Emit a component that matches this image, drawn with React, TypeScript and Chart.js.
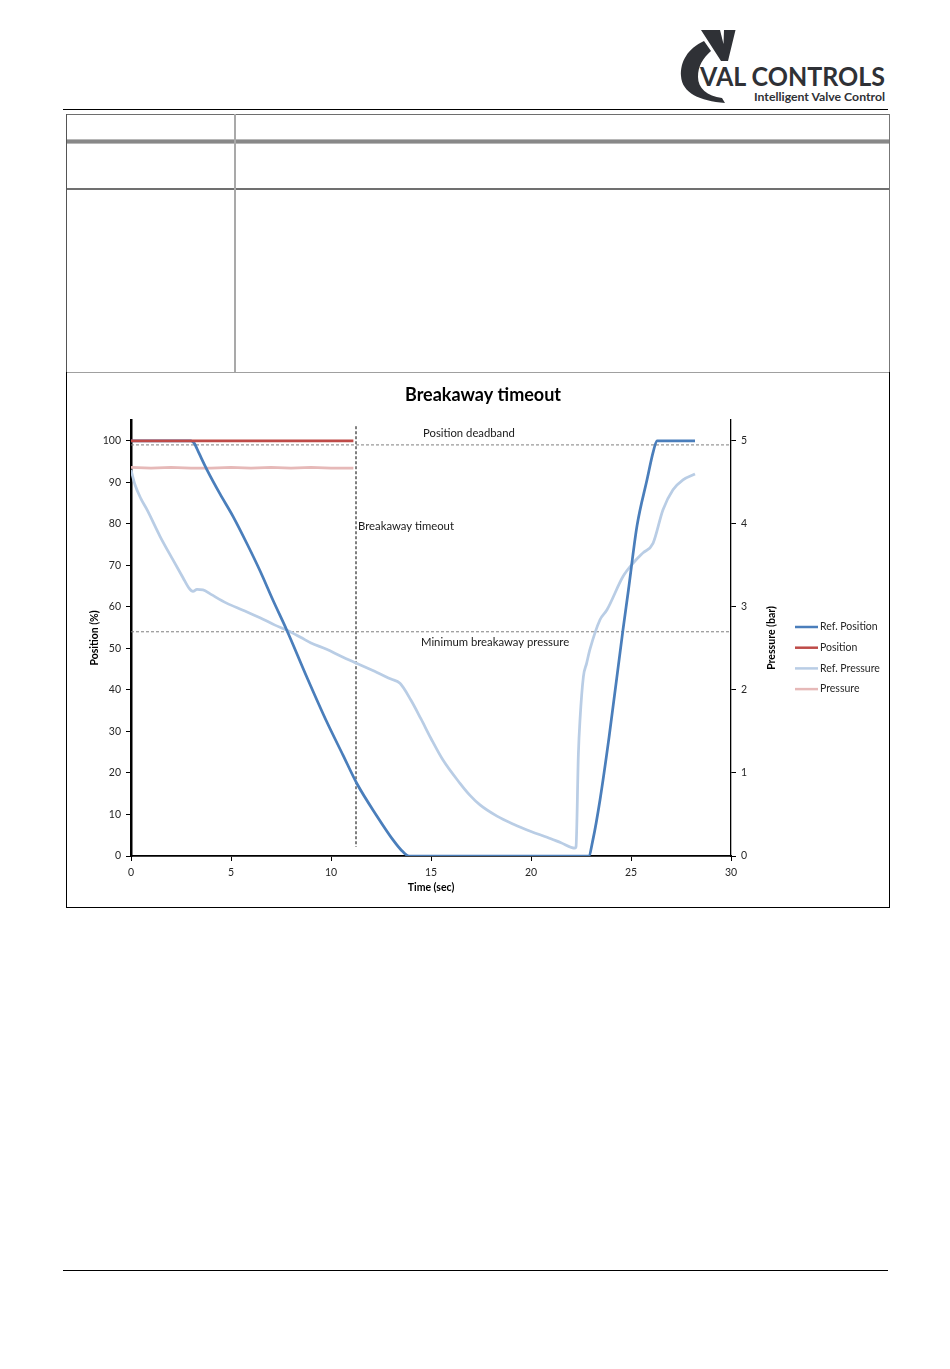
import React, { useEffect, useRef } from "react";
import { Chart, registerables } from "chart.js";

Chart.register(...registerables);

// ---------------- data ----------------
const X_TICKS = [0, 5, 10, 15, 20, 25, 30];
const POSITION_TICKS = [0, 10, 20, 30, 40, 50, 60, 70, 80, 90, 100];
const PRESSURE_TICKS = [0, 1, 2, 3, 4, 5];

// Ref. Position (%)
const refPositionTime = [0, 3.0, 3.15, 3.4, 3.8, 4.45, 5.1, 5.8, 6.45, 7.1, 7.78, 8.8, 9.8, 10.6, 11.3, 12.3, 13.1, 13.6, 13.9, 22.88, 23.1, 23.45, 23.9, 24.6, 24.87, 25.3, 25.8, 26.12, 26.3, 28.2];
const refPositionValue = [100, 100, 99.5, 97, 93, 87.2, 81.8, 75.2, 68.7, 61.6, 54.5, 43, 32.2, 24.3, 17.4, 9.6, 3.9, 1, 0, 0, 4, 13.5, 28.5, 54.5, 64, 79.5, 90.6, 97.5, 100, 100];

// Position (%)
const positionTime = [0, 11.12];
const positionValue = [100, 100];

// Ref. Pressure (bar)
const refPressureTime = [0, 0.2, 0.5, 0.8, 1.45, 2.1, 2.6, 2.9, 3.1, 3.3, 3.6, 4.0, 4.78, 5.6, 6.45, 7.2, 7.78, 8.5, 9.0, 9.78, 10.5, 11.28, 12.3, 13.0, 13.45, 14.0, 14.5, 15.0, 15.6, 16.45, 16.95, 17.45, 18.3, 19.1, 20.0, 20.8, 21.5, 22.2, 22.25, 22.37, 22.45, 22.62, 22.78, 22.95, 23.45, 23.8, 24.6, 25.1, 25.6, 26.1, 26.6, 27.1, 27.6, 28.2];
const refPressureValue = [4.65, 4.47, 4.3, 4.17, 3.85, 3.565, 3.35, 3.225, 3.185, 3.21, 3.205, 3.15, 3.045, 2.96, 2.87, 2.78, 2.72, 2.63, 2.565, 2.49, 2.405, 2.32, 2.21, 2.13, 2.08, 1.875, 1.65, 1.415, 1.155, 0.875, 0.73, 0.615, 0.48, 0.385, 0.295, 0.225, 0.16, 0.095, 0.11, 1.235, 1.64, 2.16, 2.32, 2.49, 2.845, 2.965, 3.365, 3.525, 3.65, 3.765, 4.17, 4.41, 4.53, 4.6];

// Pressure (bar)
const pressureTime = [0, 1, 2, 3, 4, 5, 6, 7, 8, 9, 10, 11.12];
const pressureValue = [4.68, 4.67, 4.68, 4.67, 4.67, 4.68, 4.67, 4.68, 4.67, 4.68, 4.67, 4.67];

// reference levels
const DEADBAND_LEVEL = 99; // %
const MIN_BREAKAWAY_PRESSURE = 2.7; // bar
const BREAKAWAY_TIMEOUT = 11.25; // s
const TIMEOUT_LINE_RANGE = [2.2, 103.5]; // % span of the vertical marker

const LEGEND_NAMES = ["Ref. Position", "Position", "Ref. Pressure", "Pressure"];

const zip = (t: number[], v: number[]) => t.map((x, i) => ({ x, y: v[i] }));

const FONT = "Lato, 'Open Sans', sans-serif";

const COLORS = {
  refPosition: "#4a7ebb",
  position: "#be4b48",
  refPressure: "#b9cde5",
  pressure: "#e6b9b8",
};

const overlayPlugin = {
  id: "overlay",
  afterDatasetsDraw(chart: any) {
    const { ctx, scales, chartArea } = chart;
    const x = scales.x;
    const y = scales.y;
    const y2 = scales.y2;
    ctx.save();
    ctx.font = `11.3px ${FONT}`;
    ctx.fillStyle = "#1a1a1a";
    ctx.textBaseline = "middle";
    ctx.textAlign = "left";
    ctx.fillText("Position deadband", x.getPixelForValue(14.6), y.getPixelForValue(DEADBAND_LEVEL) - 12);
    ctx.fillText("Minimum breakaway pressure", x.getPixelForValue(14.5), y2.getPixelForValue(MIN_BREAKAWAY_PRESSURE) + 11);
    ctx.fillText("Breakaway timeout", x.getPixelForValue(BREAKAWAY_TIMEOUT) + 2, y.getPixelForValue(79.3));

    // right axis title, reading bottom-to-top
    ctx.save();
    ctx.font = `bold 10.5px ${FONT}`;
    ctx.fillStyle = "#000";
    ctx.textAlign = "center";
    ctx.translate(chartArea.right + 41, (chartArea.top + chartArea.bottom) / 2);
    ctx.rotate(-Math.PI / 2);
    ctx.fillText("Pressure (bar)", 0, 0);
    ctx.restore();

    // legend
    const ds = chart.data.datasets;
    ctx.font = `10.5px ${FONT}`;
    ctx.textAlign = "left";
    const lx = chartArea.right + 64;
    LEGEND_NAMES.forEach((name, i) => {
      const d = ds.find((dd: any) => dd.label === name);
      const ly = 254 + i * 20.7;
      ctx.strokeStyle = d.borderColor;
      ctx.lineWidth = 2.5;
      ctx.beginPath();
      ctx.moveTo(lx, ly);
      ctx.lineTo(lx + 23, ly);
      ctx.stroke();
      ctx.fillStyle = "#262626";
      ctx.fillText(name, lx + 25, ly);
    });
    ctx.restore();
  },
};

function ChartBox() {
  const ref = useRef<HTMLCanvasElement | null>(null);
  useEffect(() => {
    if (!ref.current) return;
    const gridCfg = {
      display: true,
      drawOnChartArea: false,
      drawTicks: true,
      tickLength: 5,
      tickColor: "#000",
      tickWidth: 1,
      color: "#000",
    };
    const tickFont = { family: FONT, size: 10.5 };
    const chart = new Chart(ref.current, {
      type: "line",
      data: {
        datasets: [
          {
            label: "Position",
            data: zip(positionTime, positionValue),
            borderColor: COLORS.position,
            borderWidth: 2.75,
            pointRadius: 0,
            yAxisID: "y",
            order: 0,
          },
          {
            label: "Ref. Position",
            data: zip(refPositionTime, refPositionValue),
            borderColor: COLORS.refPosition,
            borderWidth: 2.75,
            pointRadius: 0,
            cubicInterpolationMode: "monotone",
            yAxisID: "y",
            order: 1,
          },
          {
            label: "Pressure",
            data: zip(pressureTime, pressureValue),
            borderColor: COLORS.pressure,
            borderWidth: 2.75,
            pointRadius: 0,
            yAxisID: "y2",
            order: 2,
          },
          {
            label: "Ref. Pressure",
            data: zip(refPressureTime, refPressureValue),
            borderColor: COLORS.refPressure,
            borderWidth: 2.75,
            pointRadius: 0,
            cubicInterpolationMode: "monotone",
            yAxisID: "y2",
            order: 3,
          },
          {
            label: "deadband",
            data: [
              { x: 0, y: DEADBAND_LEVEL },
              { x: 30, y: DEADBAND_LEVEL },
            ],
            borderColor: "#7f7f7f",
            borderWidth: 1,
            borderDash: [3, 2],
            pointRadius: 0,
            yAxisID: "y",
            order: 4,
          },
          {
            label: "minpressure",
            data: [
              { x: 0, y: MIN_BREAKAWAY_PRESSURE },
              { x: 30, y: MIN_BREAKAWAY_PRESSURE },
            ],
            borderColor: "#7f7f7f",
            borderWidth: 1,
            borderDash: [3, 2],
            pointRadius: 0,
            yAxisID: "y2",
            order: 5,
          },
          {
            label: "timeout",
            data: [
              { x: BREAKAWAY_TIMEOUT, y: TIMEOUT_LINE_RANGE[1] },
              { x: BREAKAWAY_TIMEOUT, y: TIMEOUT_LINE_RANGE[0] },
            ],
            borderColor: "#000",
            borderWidth: 1,
            borderDash: [3, 2],
            pointRadius: 0,
            yAxisID: "y",
            order: 6,
          },
        ],
      },
      options: {
        responsive: false,
        animation: false,
        layout: { padding: { left: 10, right: 0, top: 0, bottom: 0 } },
        plugins: {
          legend: { display: false },
          tooltip: { enabled: false },
          title: {
            display: true,
            text: "Breakaway timeout",
            color: "#000",
            font: { family: FONT, size: 18, weight: "bold" },
            padding: { top: 11.2, bottom: 14.2 },
          },
        },
        scales: {
          x: {
            type: "linear",
            min: 0,
            max: 30,
            afterBuildTicks: (s: any) => {
              s.ticks = X_TICKS.map((v) => ({ value: v }));
            },
            afterFit: (s: any) => {
              s.height = 51;
            },
            ticks: { font: tickFont, color: "#262626", padding: 5, autoSkip: false, maxRotation: 0 },
            grid: gridCfg,
            border: { display: true, color: "#000", width: 1.8 },
            title: {
              display: true,
              text: "Time (sec)",
              color: "#000",
              font: { family: FONT, size: 10.5, weight: "bold" },
              padding: { top: 0, bottom: 12.7 },
            },
          },
          y: {
            type: "linear",
            position: "left",
            min: 0,
            max: 105,
            afterBuildTicks: (s: any) => {
              s.ticks = POSITION_TICKS.map((v) => ({ value: v }));
            },
            afterFit: (s: any) => {
              s.width = 54;
            },
            ticks: { font: tickFont, color: "#262626", padding: 5, autoSkip: false },
            grid: gridCfg,
            border: { display: true, color: "#000", width: 2.5 },
            title: {
              display: true,
              text: "Position (%)",
              color: "#000",
              font: { family: FONT, size: 10.5, weight: "bold" },
              padding: { top: 11.7, bottom: 0 },
            },
          },
          y2: {
            type: "linear",
            position: "right",
            min: 0,
            max: 5.25,
            afterBuildTicks: (s: any) => {
              s.ticks = PRESSURE_TICKS.map((v) => ({ value: v }));
            },
            afterFit: (s: any) => {
              s.width = 158;
            },
            ticks: { font: tickFont, color: "#262626", padding: 5, autoSkip: false },
            grid: gridCfg,
            border: { display: true, color: "#000", width: 1.3 },
            title: { display: false },
          },
        },
      },
      plugins: [overlayPlugin],
    } as any);
    return () => chart.destroy();
  }, []);
  return (
    <canvas
      ref={ref}
      width={822}
      height={534}
      style={{ position: "absolute", left: 67, top: 373, width: 822, height: 534 }}
    />
  );
}

function Line(props: { l: number; t: number; w: number; h: number; c: string; bg?: string }) {
  return (
    <div
      style={{
        position: "absolute",
        left: props.l,
        top: props.t,
        width: props.w,
        height: props.h,
        background: props.bg || props.c,
      }}
    />
  );
}

function Logo() {
  const c = "#2f3136";
  return (
    <svg
      width={950}
      height={120}
      viewBox="0 0 950 120"
      style={{ position: "absolute", left: 0, top: 0 }}
    >
      <polygon points="701,30 720,30 723.5,44 724,30 735.5,30 728,61 721,61" fill={c} />
      <path
        d="M 704,41 C 688,48 680,62 681,76 C 682,93 700,101 725,103 L 722,98 C 707,96 698,88 698,77 C 698,66 703,58 711,51 Z"
        fill={c}
      />
      <text
        x={700}
        y={86}
        fill={c}
        fontFamily={FONT}
        fontWeight={700}
        fontSize={26}
        textLength={185}
        lengthAdjust="spacingAndGlyphs"
      >
        VAL CONTROLS
      </text>
      <text
        x={754}
        y={101}
        fill={c}
        fontFamily={FONT}
        fontWeight={700}
        fontSize={11.8}
        textLength={131}
        lengthAdjust="spacingAndGlyphs"
      >
        Intelligent Valve Control
      </text>
    </svg>
  );
}

export default function App() {
  return (
    <div style={{ position: "absolute", left: 0, top: 0, width: 950, height: 1369, background: "#fff" }}>
      <Logo />
      <Line l={63} t={108.5} w={825} h={1.5} c="#000" />
      {/* table */}
      <Line l={66} t={114} w={824} h={1} c="#6e6e6e" />
      <Line l={66} t={139} w={824} h={5} c="#888" bg="linear-gradient(#d0d0d0, #888 30%, #888 70%, #d0d0d0)" />
      <Line l={66} t={188} w={824} h={1.5} c="#707070" />
      <Line l={234} t={114} w={2} h={258} c="#a9a9a9" />
      <Line l={66} t={371.5} w={824} h={1.5} c="#a0a0a0" />
      <Line l={66} t={114} w={1} h={258} c="#555" />
      <Line l={889} t={114} w={1} h={258} c="#777" />
      {/* chart box */}
      <Line l={66} t={372} w={1} h={536} c="#000" />
      <Line l={889} t={372} w={1} h={536} c="#000" />
      <Line l={66} t={907} w={824} h={1} c="#000" />
      <ChartBox />
      {/* footer */}
      <Line l={63} t={1269.5} w={825} h={1.5} c="#000" />
    </div>
  );
}
